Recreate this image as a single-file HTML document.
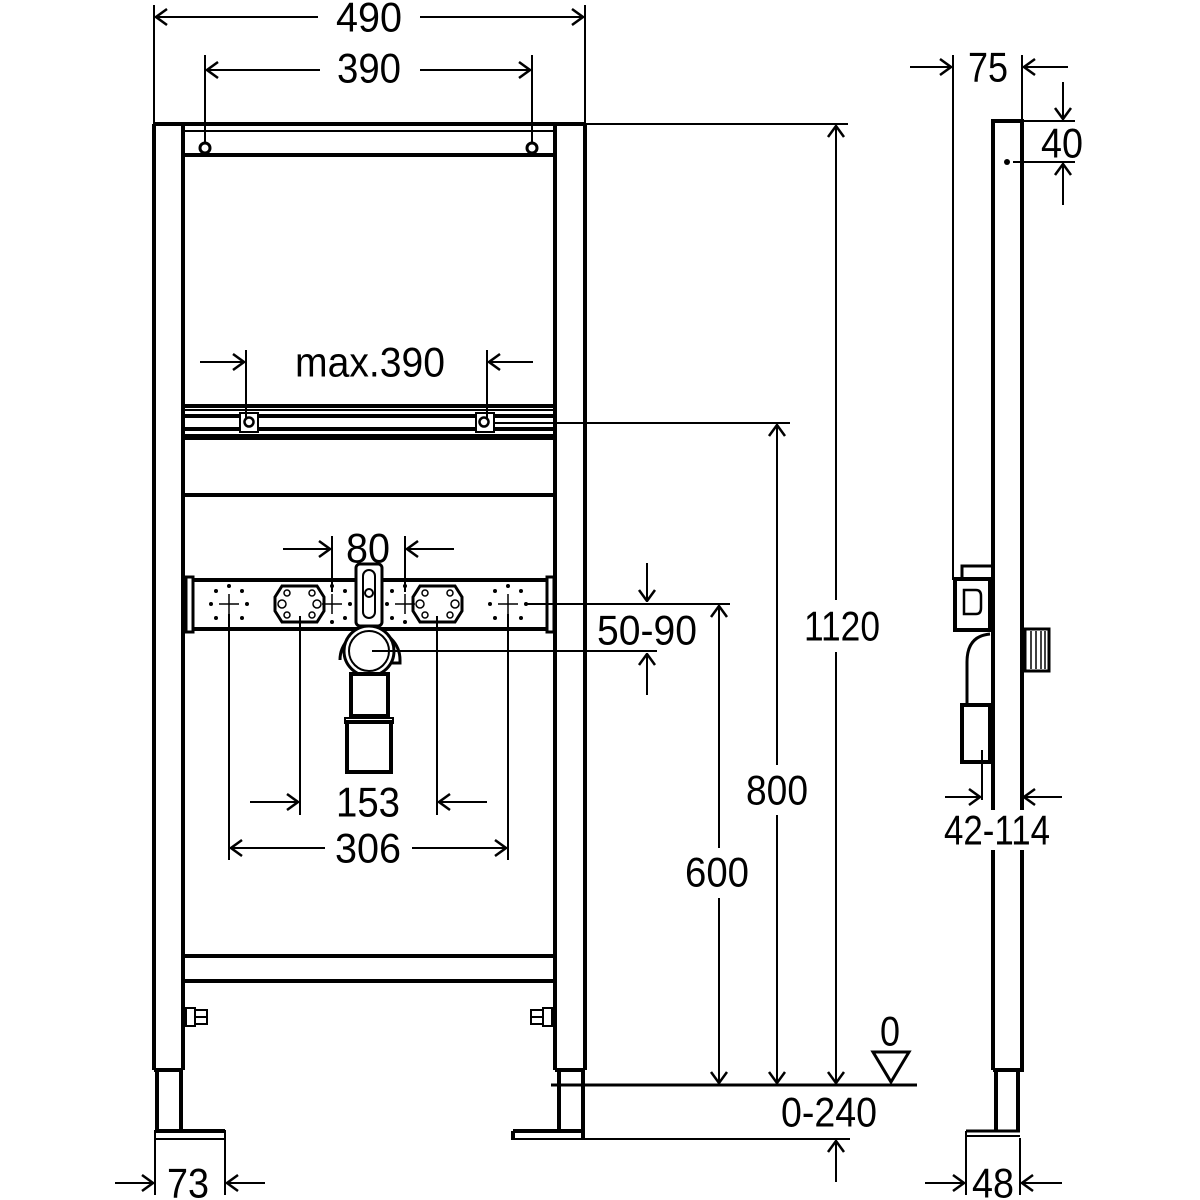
<!DOCTYPE html>
<html><head><meta charset="utf-8"><style>
html,body{margin:0;padding:0;background:#fff;}
svg{display:block;}
text{font-family:"Liberation Sans Narrow","Liberation Sans",sans-serif;font-size:42px;fill:#000;text-anchor:middle;dominant-baseline:central;}
</style></head><body>
<svg width="1200" height="1200" viewBox="0 0 1200 1200" xmlns="http://www.w3.org/2000/svg">
<defs>
<marker id="a" viewBox="0 0 20 20" refX="19" refY="10" markerWidth="20" markerHeight="20" markerUnits="userSpaceOnUse" orient="auto">
<polyline points="8,2 19,10 8,18" fill="none" stroke="#000" stroke-width="2.5"/>
</marker>
</defs>
<g stroke="#000" fill="none">
<g stroke-width="2">
<line x1="154" y1="5" x2="154" y2="124"/>
<line x1="585" y1="5" x2="585" y2="124"/>
<line x1="318" y1="17" x2="156" y2="17" marker-end="url(#a)"/>
<line x1="420" y1="17" x2="583" y2="17" marker-end="url(#a)"/>
<line x1="205" y1="55" x2="205" y2="143"/>
<line x1="532" y1="55" x2="532" y2="143"/>
<line x1="320" y1="70" x2="207" y2="70" marker-end="url(#a)"/>
<line x1="420" y1="70" x2="530" y2="70" marker-end="url(#a)"/>
<line x1="585" y1="124" x2="848" y2="124"/>
</g>
<g stroke-width="4">
<line x1="154" y1="124" x2="154" y2="1070"/>
<line x1="183" y1="124" x2="183" y2="1070"/>
<line x1="154" y1="1070" x2="183" y2="1070"/>
<line x1="555" y1="124" x2="555" y2="1070"/>
<line x1="585" y1="124" x2="585" y2="1070"/>
<line x1="555" y1="1070" x2="585" y2="1070"/>
<line x1="154" y1="124" x2="585" y2="124"/>
<line x1="183" y1="155" x2="555" y2="155"/>
<line x1="183" y1="406" x2="555" y2="406"/>
<line x1="183" y1="416" x2="240" y2="416"/>
<line x1="258" y1="416" x2="476" y2="416"/>
<line x1="494" y1="416" x2="555" y2="416"/>
<line x1="183" y1="429" x2="240" y2="429"/>
<line x1="258" y1="429" x2="476" y2="429"/>
<line x1="494" y1="429" x2="555" y2="429"/>
<line x1="183" y1="438" x2="555" y2="438"/>
<line x1="183" y1="495" x2="555" y2="495"/>
<line x1="183" y1="956" x2="555" y2="956"/>
<line x1="183" y1="981" x2="555" y2="981"/>
</g>
<g stroke-width="2">
<line x1="183" y1="131" x2="555" y2="131"/>
<line x1="183" y1="410" x2="555" y2="410"/>
<line x1="183" y1="435" x2="555" y2="435"/>
<rect x="240" y="413" width="18" height="19"/>
<rect x="476" y="413" width="18" height="19"/>
</g>
<circle cx="205" cy="148" r="5" stroke-width="3"/>
<circle cx="532" cy="148" r="5" stroke-width="3"/>
<circle cx="249" cy="422" r="4.5" stroke-width="2.5"/>
<circle cx="484" cy="422" r="4.5" stroke-width="2.5"/>
<g stroke-width="2">
<line x1="246" y1="350" x2="246" y2="418"/>
<line x1="487" y1="350" x2="487" y2="418"/>
<line x1="200" y1="362" x2="244" y2="362" marker-end="url(#a)"/>
<line x1="533" y1="362" x2="489" y2="362" marker-end="url(#a)"/>
<line x1="494" y1="423" x2="790" y2="423"/>
</g>
<g stroke-width="4">
<line x1="192" y1="580" x2="548" y2="580"/>
<line x1="192" y1="629" x2="548" y2="629"/>
<rect x="186" y="577" width="7" height="55" stroke-width="3"/>
<rect x="547" y="577" width="7" height="55" stroke-width="3"/>
<path d="M282 586 H317 L324 597 V611 L317 622 H282 L275 611 V597 Z" stroke-width="3"/>
<path d="M420 586 H455 L462 597 V611 L455 622 H420 L413 611 V597 Z" stroke-width="3"/>
</g>
<g stroke-width="1.5">
<circle cx="282" cy="604" r="4"/><circle cx="317" cy="604" r="4"/>
<circle cx="287" cy="593" r="3"/><circle cx="312" cy="593" r="3"/><circle cx="287" cy="615" r="3"/><circle cx="312" cy="615" r="3"/>
<circle cx="420" cy="604" r="4"/><circle cx="455" cy="604" r="4"/>
<circle cx="425" cy="593" r="3"/><circle cx="450" cy="593" r="3"/><circle cx="425" cy="615" r="3"/><circle cx="450" cy="615" r="3"/>
<line x1="219" y1="604" x2="239" y2="604"/><line x1="229" y1="594" x2="229" y2="614"/>
<line x1="322" y1="604" x2="342" y2="604"/><line x1="332" y1="594" x2="332" y2="614"/>
<line x1="395" y1="604" x2="415" y2="604"/><line x1="405" y1="594" x2="405" y2="614"/>
<line x1="498" y1="604" x2="518" y2="604"/><line x1="508" y1="594" x2="508" y2="614"/>
</g>
<g fill="#000" stroke="none">
<circle cx="216" cy="591" r="2"/><circle cx="242" cy="591" r="2"/><circle cx="216" cy="618" r="2"/><circle cx="242" cy="618" r="2"/><circle cx="211" cy="604" r="2"/><circle cx="247" cy="604" r="2"/><circle cx="229" cy="586" r="2"/>
<circle cx="332" cy="586" r="2"/><circle cx="345" cy="591" r="2"/><circle cx="332" cy="622" r="2"/><circle cx="345" cy="618" r="2"/><circle cx="350" cy="604" r="2"/>
<circle cx="392" cy="591" r="2"/><circle cx="392" cy="618" r="2"/><circle cx="405" cy="586" r="2"/><circle cx="405" cy="622" r="2"/><circle cx="387" cy="604" r="2"/>
<circle cx="495" cy="591" r="2"/><circle cx="521" cy="591" r="2"/><circle cx="495" cy="618" r="2"/><circle cx="521" cy="618" r="2"/><circle cx="490" cy="604" r="2"/><circle cx="526" cy="604" r="2"/><circle cx="508" cy="586" r="2"/>
</g>
<rect x="356" y="564" width="26" height="62" rx="4" fill="#fff" stroke-width="3"/>
<rect x="363" y="570" width="12" height="48" rx="6" stroke-width="2"/>
<circle cx="369" cy="593" r="4" stroke-width="2"/>
<path d="M340 660 A30 30 0 1 1 400 660 L400 663 L392 663" stroke-width="3" fill="#fff"/>
<circle cx="369" cy="651" r="25" stroke-width="3" fill="#fff"/>
<circle cx="369" cy="651" r="20" stroke-width="2"/>
<rect x="351" y="674" width="37" height="42" stroke-width="4" fill="#fff"/>
<rect x="345" y="718" width="48" height="5" stroke-width="2"/>
<rect x="347" y="722" width="44" height="50" stroke-width="4"/>
<g stroke-width="2">
<line x1="332" y1="536" x2="332" y2="592"/>
<line x1="405" y1="536" x2="405" y2="592"/>
<line x1="283" y1="549" x2="330" y2="549" marker-end="url(#a)"/>
<line x1="454" y1="549" x2="407" y2="549" marker-end="url(#a)"/>
<line x1="229" y1="614" x2="229" y2="860"/>
<line x1="508" y1="614" x2="508" y2="860"/>
<line x1="300" y1="616" x2="300" y2="815"/>
<line x1="437" y1="616" x2="437" y2="815"/>
<line x1="250" y1="802" x2="298" y2="802" marker-end="url(#a)"/>
<line x1="487" y1="802" x2="439" y2="802" marker-end="url(#a)"/>
<line x1="325" y1="848" x2="231" y2="848" marker-end="url(#a)"/>
<line x1="412" y1="848" x2="506" y2="848" marker-end="url(#a)"/>
<line x1="372" y1="651" x2="657" y2="651"/>
<line x1="526" y1="604" x2="730" y2="604"/>
<line x1="647" y1="563" x2="647" y2="601" marker-end="url(#a)"/>
<line x1="647" y1="695" x2="647" y2="654" marker-end="url(#a)"/>
</g>
<g stroke-width="2">
<rect x="186" y="1008" width="9" height="18"/><rect x="195" y="1010" width="12" height="14"/><line x1="195" y1="1017" x2="207" y2="1017"/>
<rect x="543" y="1008" width="9" height="18"/><rect x="531" y="1010" width="12" height="14"/><line x1="531" y1="1017" x2="543" y2="1017"/>
</g>
<g stroke-width="4">
<line x1="157" y1="1070" x2="157" y2="1132"/><line x1="181" y1="1070" x2="181" y2="1132"/>
<line x1="155" y1="1131" x2="225" y2="1131"/>
<line x1="559" y1="1070" x2="559" y2="1132"/><line x1="583" y1="1070" x2="583" y2="1138"/>
<line x1="513" y1="1131" x2="583" y2="1131"/>
<line x1="513" y1="1131" x2="513" y2="1140"/>
</g>
<g stroke-width="2">
<line x1="155" y1="1130" x2="155" y2="1195"/><line x1="225" y1="1130" x2="225" y2="1195"/>
<line x1="155" y1="1139" x2="225" y2="1139"/>
<line x1="513" y1="1139" x2="850" y2="1139"/>
<line x1="115" y1="1183" x2="153" y2="1183" marker-end="url(#a)"/>
<line x1="265" y1="1183" x2="227" y2="1183" marker-end="url(#a)"/>
<line x1="551" y1="1085" x2="917" y2="1085" stroke-width="3"/>
<line x1="719" y1="606" x2="719" y2="1083" marker-end="url(#a)"/>
<line x1="719" y1="1000" x2="719" y2="606" marker-end="url(#a)"/>
<line x1="777" y1="1000" x2="777" y2="425" marker-end="url(#a)"/>
<line x1="777" y1="425" x2="777" y2="1083" marker-end="url(#a)"/>
<line x1="836" y1="1000" x2="836" y2="126" marker-end="url(#a)"/>
<line x1="836" y1="126" x2="836" y2="1083" marker-end="url(#a)"/>
<line x1="836" y1="1182" x2="836" y2="1141" marker-end="url(#a)"/>
<polygon points="873,1052 909,1052 891,1082" stroke-width="3"/>
</g>
<g stroke-width="2">
<line x1="953" y1="55" x2="953" y2="580"/>
<line x1="1022" y1="55" x2="1022" y2="121"/>
<line x1="910" y1="67" x2="951" y2="67" marker-end="url(#a)"/>
<line x1="1068" y1="67" x2="1024" y2="67" marker-end="url(#a)"/>
<line x1="1022" y1="121" x2="1075" y2="121"/>
<line x1="1013" y1="162" x2="1075" y2="162"/>
<line x1="1063" y1="82" x2="1063" y2="119" marker-end="url(#a)"/>
<line x1="1063" y1="205" x2="1063" y2="164" marker-end="url(#a)"/>
<line x1="982" y1="750" x2="982" y2="800"/>
<line x1="945" y1="797" x2="980" y2="797" marker-end="url(#a)"/>
<line x1="1062" y1="797" x2="1024" y2="797" marker-end="url(#a)"/>
<line x1="966" y1="1138" x2="966" y2="1195"/><line x1="1020" y1="1138" x2="1020" y2="1195"/>
<line x1="966" y1="1136" x2="1020" y2="1136"/>
<line x1="925" y1="1183" x2="964" y2="1183" marker-end="url(#a)"/>
<line x1="1062" y1="1183" x2="1022" y2="1183" marker-end="url(#a)"/>
</g>
<circle cx="1007" cy="162" r="3" fill="#000" stroke="none"/>
<g stroke-width="4">
<polyline points="993,1070 993,121 1022,121 1022,1070 993,1070"/>
<line x1="996" y1="1070" x2="996" y2="1132"/><line x1="1018" y1="1070" x2="1018" y2="1132"/>
<line x1="966" y1="1131" x2="1020" y2="1131" stroke-width="3"/>
<line x1="966" y1="1131" x2="966" y2="1139" stroke-width="2"/>
<rect x="955" y="579" width="35" height="51"/>
<polyline points="962,579 962,566 991,566" stroke-width="3"/>
<path d="M964 590 H976 Q981 590 981 596 V608 Q981 614 976 614 H964 Z" stroke-width="2.5"/>
<path d="M990 634 Q967 636 967 662 V705" stroke-width="3"/>
<rect x="962" y="705" width="28" height="57"/>
<rect x="1025" y="629" width="24" height="42" stroke-width="3"/>
</g>
<g stroke-width="1.5">
<line x1="1031" y1="631" x2="1031" y2="669"/><line x1="1036" y1="631" x2="1036" y2="669"/><line x1="1041" y1="631" x2="1041" y2="669"/><line x1="1045" y1="631" x2="1045" y2="669"/>
</g>
</g>
<text x="369" y="17" textLength="66" lengthAdjust="spacingAndGlyphs">490</text>
<text x="369" y="68" textLength="64" lengthAdjust="spacingAndGlyphs">390</text>
<text x="370" y="362" textLength="150" lengthAdjust="spacingAndGlyphs">max.390</text>
<text x="368" y="548" textLength="44" lengthAdjust="spacingAndGlyphs">80</text>
<text x="368" y="802" textLength="64" lengthAdjust="spacingAndGlyphs">153</text>
<text x="368" y="848" textLength="66" lengthAdjust="spacingAndGlyphs">306</text>
<text x="647" y="630" textLength="100" lengthAdjust="spacingAndGlyphs">50-90</text>
<rect x="800" y="600" width="76" height="52" fill="#fff"/>
<text x="842" y="626" textLength="76" lengthAdjust="spacingAndGlyphs">1120</text>
<rect x="745" y="765" width="64" height="50" fill="#fff"/>
<text x="777" y="790" textLength="62" lengthAdjust="spacingAndGlyphs">800</text>
<rect x="685" y="848" width="66" height="50" fill="#fff"/>
<text x="717" y="872" textLength="64" lengthAdjust="spacingAndGlyphs">600</text>
<text x="890" y="1031" textLength="20" lengthAdjust="spacingAndGlyphs">0</text>
<text x="829" y="1112" textLength="96" lengthAdjust="spacingAndGlyphs">0-240</text>
<text x="188" y="1183" textLength="42" lengthAdjust="spacingAndGlyphs">73</text>
<text x="988" y="67" textLength="40" lengthAdjust="spacingAndGlyphs">75</text>
<text x="1062" y="143" textLength="42" lengthAdjust="spacingAndGlyphs">40</text>
<rect x="944" y="810" width="108" height="40" fill="#fff"/>
<text x="997" y="830" textLength="106" lengthAdjust="spacingAndGlyphs">42-114</text>
<text x="993" y="1183" textLength="42" lengthAdjust="spacingAndGlyphs">48</text>
</svg>
</body></html>
